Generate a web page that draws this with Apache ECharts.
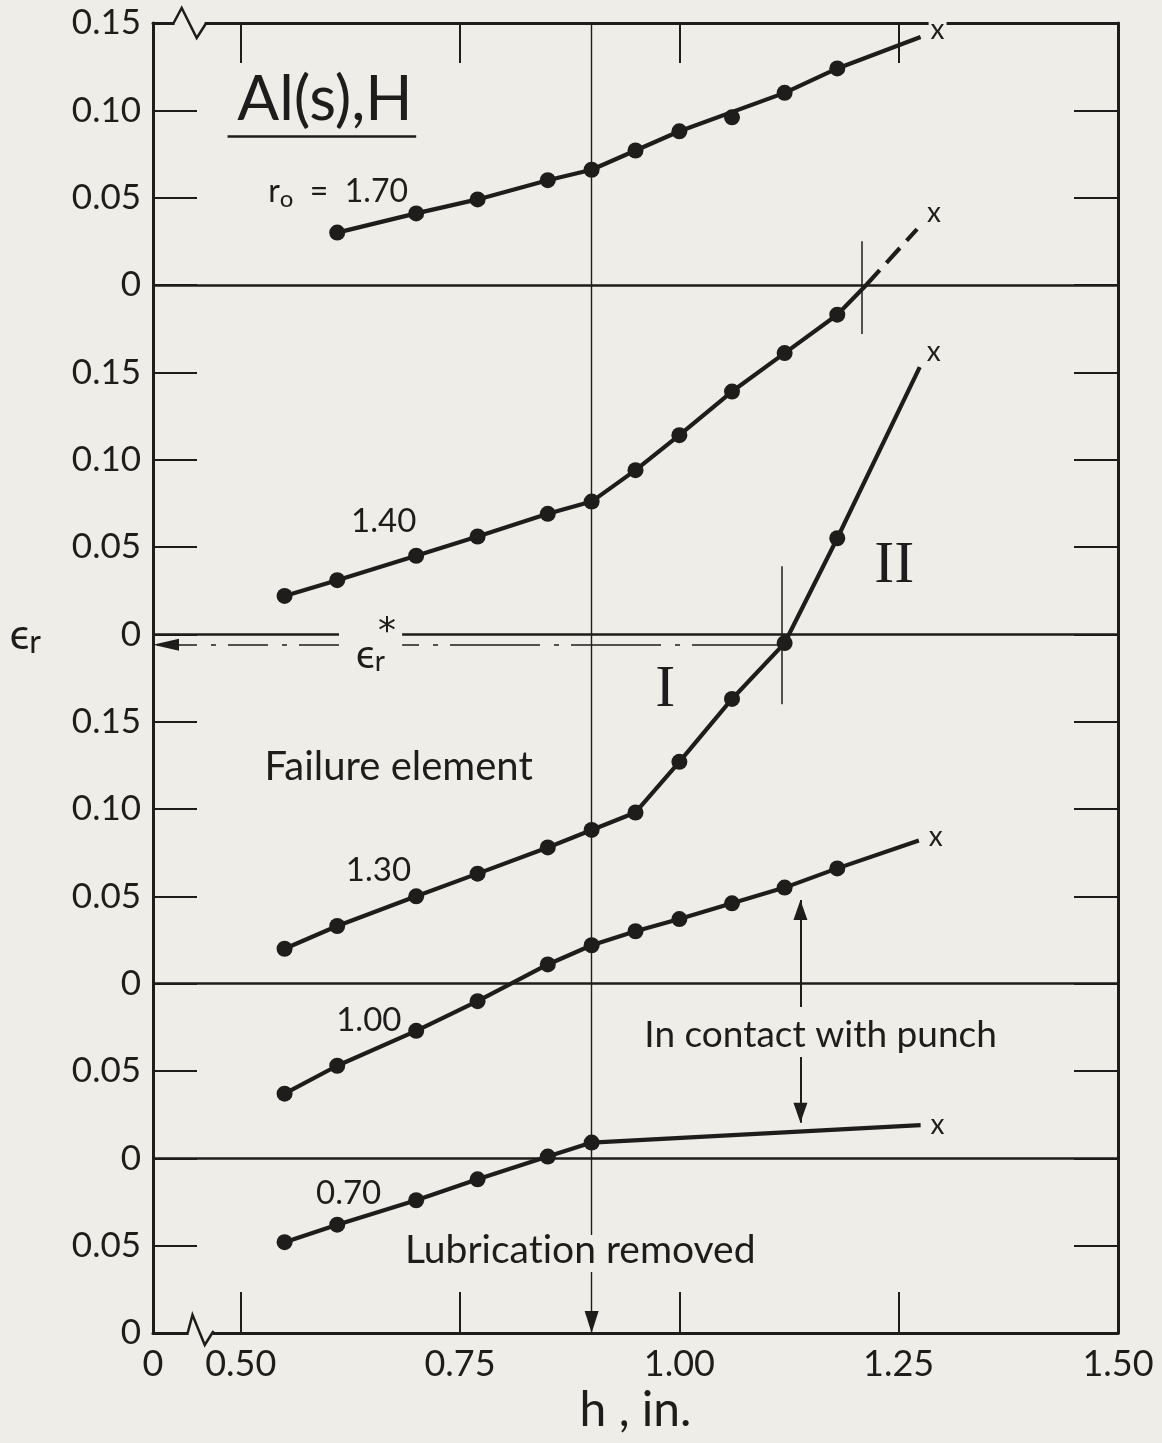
<!DOCTYPE html>
<html><head><meta charset="utf-8">
<script src="https://cdn.jsdelivr.net/npm/echarts@6/dist/echarts.min.js"></script>
<style>html,body{margin:0;padding:0;background:#efede8;}#c{width:1162px;height:1443px;}</style>
</head><body><div id="c"></div>
<script>
// ---------------- data ----------------
const yTickValues = [0, 0.05, 0.10, 0.15, 0.20, 0.25, 0.30, 0.35, 0.40, 0.45, 0.50, 0.55, 0.60, 0.65, 0.70, 0.75];
const yTickLabels = ['0','0.05','0','0.05','0','0.05','0.10','0.15','0','0.05','0.10','0.15','0','0.05','0.10','0.15'];
const xTickValues = [0.40, 0.50, 0.75, 1.00, 1.25, 1.50];
const xTickLabels = ['0', '0.50', '0.75', '1.00', '1.25', '1.50'];

// zero line of each stacked panel on the continuous axis
const panelBase = { r170: 0.60, r140: 0.40, r130: 0.20, r100: 0.20, r070: 0.10 };

const r170_h   = [0.61, 0.70, 0.77, 0.85, 0.90, 0.95, 1.00, 1.06, 1.12, 1.18];
const r170_eps = [0.030, 0.041, 0.049, 0.060, 0.066, 0.077, 0.088, 0.096, 0.110, 0.124];
const r170_offLine = [1.06];           // point plotted slightly off the drawn line
const r170_end = [1.275, 0.142];

const r140_h   = [0.55, 0.61, 0.70, 0.77, 0.85, 0.90, 0.95, 1.00, 1.06, 1.12, 1.18];
const r140_eps = [0.022, 0.031, 0.045, 0.056, 0.069, 0.076, 0.094, 0.114, 0.139, 0.161, 0.183];
const r140_fail = [1.213, 0.200];      // fracture, curve continues dashed
const r140_end = [1.271, 0.232];

const r130_h   = [0.55, 0.61, 0.70, 0.77, 0.85, 0.90, 0.95, 1.00, 1.06, 1.12, 1.18];
const r130_eps = [0.020, 0.033, 0.050, 0.063, 0.078, 0.088, 0.098, 0.127, 0.163, 0.195, 0.255];
const r130_end = [1.274, 0.353];

const r100_h   = [0.55, 0.61, 0.70, 0.77, 0.85, 0.90, 0.95, 1.00, 1.06, 1.12, 1.18];
const r100_eps = [-0.063, -0.047, -0.027, -0.010, 0.011, 0.022, 0.030, 0.037, 0.046, 0.055, 0.066];
const r100_end = [1.273, 0.082];

const r070_h   = [0.55, 0.61, 0.70, 0.77, 0.85, 0.90];
const r070_eps = [-0.048, -0.038, -0.024, -0.012, 0.001, 0.009];
const r070_end = [1.275, 0.019];

const epsStar = 0.194;      // failure strain (r0 = 1.30 panel)
const hFail130 = 1.117;
const hFail140 = 1.208;
const hLubrication = 0.90;
const hContact = 1.138;

// ---------------- style ----------------
const BG = '#efede8';
const INK = '#1f1d1b';
const FONT = 'Lato, "Open Sans", "DejaVu Sans", sans-serif';
const SERIF = '"Liberation Serif", "DejaVu Serif", serif';

const chart = echarts.init(document.getElementById('c'), null, { renderer: 'canvas' });

function toPts(hs, eps, base) { return hs.map((h, i) => [h, +(base + eps[i]).toFixed(4)]); }
function endLabel(dx, dy) {
  return { show: true, formatter: 'x', offset: [dx, dy], distance: 2, fontSize: 28, color: INK,
           fontFamily: FONT, backgroundColor: BG, padding: [0, 2] };
}
function lineSeries(data, opts) {
  return Object.assign({ type: 'line', data: data, symbol: 'none', silent: true, z: 5,
    lineStyle: { color: INK, width: 4.2 }, animation: false }, opts || {});
}
function dotSeries(data) {
  return { type: 'scatter', data: data, symbol: 'circle', symbolSize: 16, silent: true, z: 6,
           itemStyle: { color: INK, opacity: 1 }, animation: false };
}

const p170 = toPts(r170_h, r170_eps, panelBase.r170);
const p140 = toPts(r140_h, r140_eps, panelBase.r140);
const p130 = toPts(r130_h, r130_eps, panelBase.r130);
const p100 = toPts(r100_h, r100_eps, panelBase.r100);
const p070 = toPts(r070_h, r070_eps, panelBase.r070);
const e170 = [r170_end[0], panelBase.r170 + r170_end[1]];
const f140 = [r140_fail[0], panelBase.r140 + r140_fail[1]];
const e140 = [r140_end[0], panelBase.r140 + r140_end[1]];
const e130 = [r130_end[0], panelBase.r130 + r130_end[1]];
const e100 = [r100_end[0], panelBase.r100 + r100_end[1]];
const e070 = [r070_end[0], panelBase.r070 + r070_end[1]];
const yStar = panelBase.r130 + epsStar;

function txt(pos, formatter, style) {
  return { value: pos, label: Object.assign({ show: true, formatter: formatter, color: INK,
           fontFamily: FONT, fontWeight: 'normal', position: [0, 0], align: 'center', verticalAlign: 'middle',
           textBorderWidth: 0, opacity: 1 }, style) };
}
const subRich = (big, small, drop) => ({
  a: { fontSize: big, fontFamily: FONT, color: INK },
  s: { fontSize: small, fontFamily: FONT, color: INK, verticalAlign: 'bottom', padding: [drop, 0, 0, 0] }
});

const annotations = [
  txt([0.596, 0.706], 'Al(s),H', { fontSize: 62 }),
  txt([0.611, 0.6532], '{a|r}{s|o}{a|  =  1.70}', { rich: subRich(32, 24, 14) }),
  txt([0.663, 0.4645], '1.40', { fontSize: 33 }),
  txt([0.657, 0.2647], '1.30', { fontSize: 33 }),
  txt([0.646, 0.1792], '1.00', { fontSize: 33 }),
  txt([0.623, 0.0800], '0.70', { fontSize: 33 }),
  txt([0.680, 0.3242], 'Failure element', { fontSize: 40 }),
  txt([0.984, 0.3681], 'I', { fontSize: 60, fontFamily: SERIF }),
  txt([1.245, 0.4387], 'II', { fontSize: 60, fontFamily: SERIF }),
  txt([1.161, 0.1706], 'In contact with punch', { fontSize: 37 }),
  txt([0.887, 0.0475], 'Lubricat\u200Cion removed', { fontSize: 39 }),
  txt([0.648, 0.3880], '{a|ϵ}{s|r}', { rich: subRich(40, 28, 14) }),
  txt([0.6667, 0.4011], '*', { fontSize: 36, fontFamily: '"DejaVu Sans", sans-serif' })
];

const solid = (w) => ({ width: w, color: INK, type: 'solid' });
const segLine = (a, b, style, endSym) => {
  const s = [{ coord: a, symbol: 'none', lineStyle: style }, { coord: b, symbol: 'none' }];
  if (endSym) Object.assign(s[1], endSym);
  return s;
};
const tri = (w, h) => ({ symbol: 'triangle', symbolSize: [w, h], symbolOffset: [0, h / 2] });

// gap left for the epsilon* label and the "Lubrication removed" text
const starGap = [0.612, 0.684];
const lubGap = [0.0349, 0.0561];

const markLines = [
  { yAxis: panelBase.r070, lineStyle: solid(2.5) },
  { yAxis: panelBase.r100, lineStyle: solid(2.5) },
  { yAxis: panelBase.r170, lineStyle: solid(2.5) },
  segLine([0.40, panelBase.r140], [starGap[0], panelBase.r140], solid(2.5)),
  segLine([starGap[1], panelBase.r140], [1.50, panelBase.r140], solid(2.5)),
  // lubrication removed
  segLine([hLubrication, 0.75], [hLubrication, lubGap[1]], solid(1.4)),
  segLine([hLubrication, lubGap[0]], [hLubrication, 0], solid(1.4), tri(14, 22)),
  // epsilon* dash-dot
  segLine([hFail130, yStar], [starGap[1], yStar], { width: 1.5, color: INK, type: [90, 12, 5, 14] }),
  segLine([starGap[0], yStar], [0.40, yStar], { width: 1.5, color: INK, type: [40, 12, 5, 14] },
          tri(12, 26)),
  // failure ticks
  segLine([hFail140, panelBase.r140 + 0.172], [hFail140, panelBase.r140 + 0.225], solid(1.5)),
  segLine([hFail130, panelBase.r130 + 0.160], [hFail130, panelBase.r130 + 0.239], solid(1.5)),
  // contact with punch arrows
  segLine([hContact, 0.1866], [hContact, 0.2479], solid(2), tri(14, 20)),
  segLine([hContact, 0.1580], [hContact, 0.1204], solid(2), tri(14, 20)),
  // title underline
  segLine([0.485, 0.6853], [0.700, 0.6853], solid(2.5))
];

const series = [
  { type: 'scatter', data: annotations, symbolSize: 0, itemStyle: { color: INK },
    silent: true, z: 8, animation: false,
    markLine: { silent: true, animation: false, symbol: ['none', 'none'], label: { show: false },
                lineStyle: { color: INK }, emphasis: { disabled: true }, data: markLines } },
  lineSeries(p170.filter(p => !r170_offLine.includes(p[0])).concat([e170]), { endLabel: endLabel(6, -7) }),
  dotSeries(p170),
  lineSeries(p140.concat([f140])),
  lineSeries([f140, e140], { lineStyle: { color: INK, width: 4.2, type: [20, 10] }, endLabel: endLabel(6, -16) }),
  dotSeries(p140),
  lineSeries(p130.concat([e130]), { endLabel: endLabel(3, -15) }),
  dotSeries(p130),
  lineSeries(p100.concat([e100]), { endLabel: endLabel(6, -3) }),
  dotSeries(p100),
  lineSeries(p070.concat([e070]), { endLabel: endLabel(6, 0) }),
  dotSeries(p070)
];

const axisLabelStyle = { color: INK, fontFamily: FONT, fontWeight: 'normal' };
const tickStyle = { color: INK, width: 2 };
const inner = [0.50, 0.75, 1.00, 1.25];
const yInner = yTickValues.slice(1, -1);

const option = {
  backgroundColor: BG,
  animation: false,
  grid: { left: 153, right: 44, top: 23, bottom: 110, containLabel: false },
  xAxis: [
    { type: 'value', min: 0.40, max: 1.50, position: 'bottom',
      name: 'h , in.', nameLocation: 'middle', nameGap: 52,
      nameTextStyle: { fontSize: 48, color: INK, fontFamily: FONT },
      axisLine: { show: true, onZero: false, lineStyle: { color: INK, width: 3 } },
      axisTick: { show: true, inside: true, length: 41, customValues: inner, lineStyle: tickStyle },
      axisLabel: Object.assign({ fontSize: 36, margin: 13, customValues: xTickValues,
        formatter: v => xTickLabels[xTickValues.findIndex(t => Math.abs(t - v) < 1e-6)] }, axisLabelStyle),
      splitLine: { show: false } },
    { type: 'value', min: 0.40, max: 1.50, position: 'top',
      axisLine: { show: true, onZero: false, lineStyle: { color: INK, width: 3 } },
      axisTick: { show: true, inside: true, length: 40, customValues: inner, lineStyle: tickStyle },
      axisLabel: { show: false }, splitLine: { show: false } }
  ],
  yAxis: [
    { type: 'value', min: 0, max: 0.75, interval: 0.05, position: 'left',
      name: '{a|ϵ}{s|r}', nameLocation: 'middle', nameRotate: 0, nameGap: 112,
      nameTextStyle: { rich: subRich(42, 32, 16), padding: [0, 0, 86, 0] },
      axisLine: { show: true, onZero: false, lineStyle: { color: INK, width: 3 } },
      axisTick: { show: true, inside: true, length: 44, customValues: yInner, lineStyle: tickStyle },
      axisLabel: Object.assign({ fontSize: 35, margin: 12, customValues: yTickValues,
        formatter: v => yTickLabels[Math.round(v / 0.05)] }, axisLabelStyle),
      splitLine: { show: false } },
    { type: 'value', min: 0, max: 0.75, interval: 0.05, position: 'right',
      axisLine: { show: true, onZero: false, lineStyle: { color: INK, width: 3 } },
      axisTick: { show: true, inside: true, length: 44, customValues: yInner, lineStyle: tickStyle },
      axisLabel: { show: false }, splitLine: { show: false } }
  ],
  series: series
};
chart.setOption(option);

// axis-break marks on top and bottom frame lines
const px = (h, y) => chart.convertToPixel({ gridIndex: 0 }, [h, y]);
function breakMark(hs, yVal, offs) {
  const pts = hs.map((h, i) => { const p = px(h, yVal); return [p[0], p[1] + offs[i]]; });
  const base = px(hs[0], yVal)[1];
  return [
    { type: 'rect', shape: { x: pts[0][0] + 1, y: base - 3, width: pts[3][0] - pts[0][0] - 2, height: 6 },
      style: { fill: BG }, z: 50, silent: true },
    { type: 'polyline', shape: { points: pts }, style: { stroke: INK, lineWidth: 2.5, fill: null }, z: 51, silent: true }
  ];
}
chart.setOption({ graphic: [].concat(
  breakMark([0.4235, 0.4327, 0.4498, 0.4600], 0.75, [0, -15, 15, 1]),
  breakMark([0.4395, 0.4450, 0.4590, 0.4690], 0, [0, -18, 12, -2])
) });
</script></body></html>
